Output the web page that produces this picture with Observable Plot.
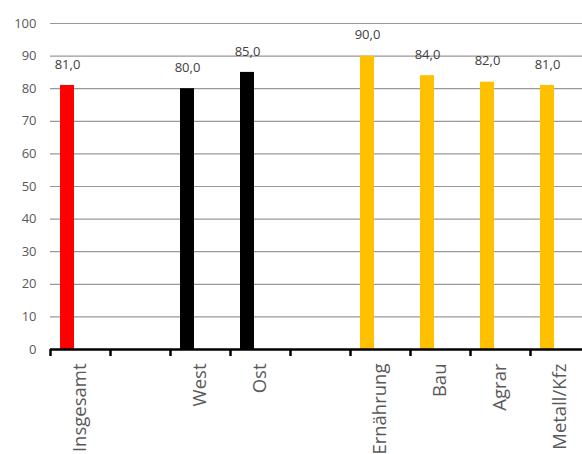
<!DOCTYPE html>
<html>
<head>
<meta charset="utf-8">
<script src="https://cdn.jsdelivr.net/npm/d3@7"></script>
<script src="https://cdn.jsdelivr.net/npm/@observablehq/plot@0.6"></script>
<style>
  html, body { margin: 0; padding: 0; background: #fff; overflow: hidden; }
  svg { max-width: none !important; }
</style>
</head>
<body>
<div id="chart"></div>
<script>
const categories = ["Insgesamt", "", "West", "Ost", " ", "Ernährung", "Bau", "Agrar", "Metall/Kfz"];
const values = [81, null, 80, 85, null, 90, 84, 82, 81];
const groups = ["Gesamt", null, "Region", "Region", null, "Branche", "Branche", "Branche", "Branche"];
const groupNames = ["Gesamt", "Region", "Branche"];
const groupColors = ["#ff0000", "#000000", "#ffc000"];
const yTicks = [0, 10, 20, 30, 40, 50, 60, 70, 80, 90, 100];

const data = categories.map((c, i) => ({cat: c, value: values[i], group: groups[i]}))
  .filter(d => d.value != null);

const fmt = v => v.toFixed(1).replace(".", ",");

const chart = Plot.plot({
  width: 582,
  height: 454,
  marginLeft: 50,
  marginRight: -8,
  marginTop: 23,
  marginBottom: 105,
  style: {fontFamily: "'Open Sans', sans-serif", background: "#fff"},
  x: {domain: categories, padding: 0, label: null},
  y: {domain: [0, 100], label: null},
  color: {domain: groupNames, range: groupColors},
  marks: [
    Plot.gridY(yTicks, {stroke: "#999", strokeOpacity: 1, strokeWidth: 1.2}),
    Plot.axisY(yTicks, {tickSize: 0, tickPadding: 14, fontSize: 13, color: "#595959", label: null}),
    Plot.barY(data, {x: "cat", y: "value", fill: "group", insetLeft: 10, insetRight: 36}),
    Plot.text(data, {x: "cat", y: "value", text: d => fmt(d.value), dx: -13, dy: -21, fontSize: 13, fill: "#404040"}),
    Plot.ruleY([0], {stroke: "#000", strokeWidth: 2.5}),
    Plot.axisX({tickSize: 7, text: null, dx: -30, stroke: "#000", strokeWidth: 2.5}),
    Plot.axisX({tickSize: 0, tickPadding: 14, tickRotate: -90, fontSize: 18.5, color: "#595959", label: null})
  ]
});
document.getElementById("chart").appendChild(chart);
</script>
</body>
</html>
